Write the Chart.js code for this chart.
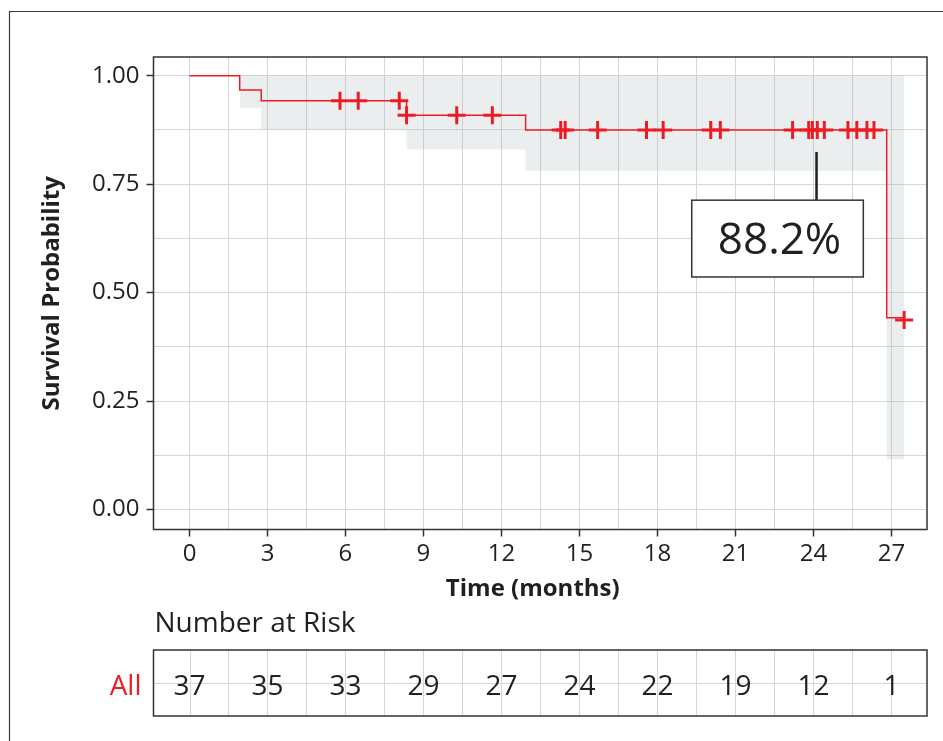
<!DOCTYPE html>
<html>
<head>
<meta charset="utf-8">
<script src="https://cdn.jsdelivr.net/npm/chart.js@4.4.1/dist/chart.umd.min.js"></script>
<style>
html,body{margin:0;padding:0;background:#fff;}
#wrap{position:relative;width:943px;height:741px;}
canvas{display:block;}
</style>
</head>
<body>
<div id="wrap"><canvas id="c" width="943" height="741"></canvas></div>
<script>
// ---- data ----
const survTime = [0, 1.93, 2.76, 8.35, 12.93, 26.82, 27.49];
const survProb = [1.0, 0.967, 0.942, 0.909, 0.875, 0.442, 0.442];

const ciTime  = [1.93, 2.76, 8.35, 12.93, 26.82, 27.49];
const ciLower = [0.926, 0.876, 0.830, 0.781, 0.116, 0.116];
const ciUpper = [1.0, 1.0, 1.0, 1.0, 1.0, 1.0];

const censorTime = [5.79, 6.49, 8.07, 8.35, 10.28, 11.65,
  14.28, 14.45, 15.70, 17.58, 18.22, 20.05, 20.42, 23.20, 23.82, 23.96, 24.15, 24.42,
  25.33, 25.67, 26.06, 26.33, 27.49];
const censorProb = [0.942, 0.942, 0.942, 0.909, 0.909, 0.909,
  0.875, 0.875, 0.875, 0.875, 0.875, 0.875, 0.875, 0.875, 0.875, 0.875, 0.875, 0.875,
  0.875, 0.875, 0.875, 0.875, 0.437];

const xTickValues = [0, 3, 6, 9, 12, 15, 18, 21, 24, 27];
const yTickValues = [0, 0.25, 0.5, 0.75, 1.0];
const yTickLabels = ['0.00', '0.25', '0.50', '0.75', '1.00'];

const riskGroup = 'All';
const riskTimes = [0, 3, 6, 9, 12, 15, 18, 21, 24, 27];
const riskCounts = [37, 35, 33, 29, 27, 24, 22, 19, 12, 1];

const annotLabel = '88.2%';
const xTitle = 'Time (months)';
const yTitle = 'Survival Probability';
const tableTitle = 'Number at Risk';

// ---- styling / layout ----
const TEXT = '#231F20';
const RED = '#ED1C24';
const GRID = '#d6d6d6';
const FONT = '"Open Sans", "Noto Sans", sans-serif';
const X_MIN = -1.385, X_MAX = 28.37, Y_MIN = -0.046, Y_MAX = 1.043;
const annotPos = {time: 24.12, top: 0.824, boxLeft: 19.32, boxRight: 25.92, boxTop: 0.713, boxBottom: 0.536};

const pts = (xs, ys) => xs.map((v, i) => ({x: v, y: ys[i]}));

const decor = {
  id: 'decor',
  beforeDraw(chart) {
    const ctx = chart.ctx;
    ctx.save();
    ctx.fillStyle = '#fff';
    ctx.fillRect(0, 0, chart.width, chart.height);
    ctx.strokeStyle = '#3a3a3a';
    ctx.lineWidth = 1.2;
    ctx.beginPath();
    ctx.moveTo(9.5, chart.height);
    ctx.lineTo(9.5, 11.5);
    ctx.lineTo(chart.width, 11.5);
    ctx.stroke();
    ctx.restore();
  },
  afterDatasetsDraw(chart) {
    const {ctx, chartArea: a, scales: {x, y}} = chart;
    ctx.save();
    // panel border
    ctx.strokeStyle = '#333';
    ctx.lineWidth = 1.5;
    ctx.strokeRect(a.left, a.top, a.right - a.left, a.bottom - a.top);
    // annotation
    const lx = x.getPixelForValue(annotPos.time);
    const bl = x.getPixelForValue(annotPos.boxLeft), br = x.getPixelForValue(annotPos.boxRight);
    const bt = y.getPixelForValue(annotPos.boxTop), bb = y.getPixelForValue(annotPos.boxBottom);
    ctx.strokeStyle = TEXT;
    ctx.lineWidth = 2.5;
    ctx.beginPath();
    ctx.moveTo(lx, y.getPixelForValue(annotPos.top));
    ctx.lineTo(lx, bt);
    ctx.stroke();
    ctx.fillStyle = '#fff';
    ctx.fillRect(bl, bt, br - bl, bb - bt);
    ctx.lineWidth = 1.5;
    ctx.strokeStyle = '#333';
    ctx.strokeRect(bl, bt, br - bl, bb - bt);
    ctx.fillStyle = TEXT;
    ctx.font = '44px ' + FONT;
    ctx.textAlign = 'center';
    ctx.textBaseline = 'alphabetic';
    ctx.fillText(annotLabel, (bl + br) / 2 + 2, bt + 54);
    ctx.restore();
  },
  afterDraw(chart) {
    const {ctx, chartArea: a, scales: {x}} = chart;
    const tTop = 650, tBot = 716, tMid = 683, base = 695;
    ctx.save();
    // x axis title (slightly left of panel centre, as in the reference)
    ctx.fillStyle = TEXT;
    ctx.font = 'bold 24px ' + FONT;
    ctx.textAlign = 'center';
    ctx.textBaseline = 'middle';
    ctx.fillText(xTitle, (a.left + a.right) / 2 - 7.5, 589);
    // table title
    ctx.font = '28px ' + FONT;
    ctx.textAlign = 'left';
    ctx.textBaseline = 'alphabetic';
    ctx.fillText(tableTitle, a.left + 1, 632);
    // table grid
    ctx.strokeStyle = GRID;
    ctx.lineWidth = 1;
    x.ticks.forEach(t => {
      const px = Math.round(x.getPixelForValue(t.value)) + 0.5;
      ctx.beginPath(); ctx.moveTo(px, tTop); ctx.lineTo(px, tBot); ctx.stroke();
    });
    ctx.beginPath(); ctx.moveTo(a.left, tMid + 0.5); ctx.lineTo(a.right, tMid + 0.5); ctx.stroke();
    ctx.strokeStyle = '#333';
    ctx.lineWidth = 1.5;
    ctx.strokeRect(a.left, tTop, a.right - a.left, tBot - tTop);
    // counts
    ctx.textAlign = 'center';
    ctx.fillStyle = TEXT;
    riskTimes.forEach((t, i) => ctx.fillText(String(riskCounts[i]), x.getPixelForValue(t), base));
    ctx.fillStyle = RED;
    ctx.textAlign = 'right';
    ctx.fillText(riskGroup, a.left - 12, base);
    ctx.restore();
  }
};

function draw() {
  new Chart(document.getElementById('c'), {
    type: 'line',
    data: {
      datasets: [
        {
          type: 'scatter',
          data: pts(censorTime, censorProb),
          showLine: false,
          pointStyle: 'cross',
          pointRadius: 9,
          pointHoverRadius: 9,
          pointBorderWidth: 3,
          borderColor: RED,
          backgroundColor: RED,
          order: 0
        },
        {
          data: pts(survTime, survProb),
          stepped: true,
          borderColor: RED,
          borderWidth: 1.5,
          pointRadius: 0,
          fill: false,
          order: 1
        },
        {
          data: pts(ciTime, ciLower),
          stepped: true,
          borderWidth: 0,
          borderColor: 'rgba(0,0,0,0)',
          pointRadius: 0,
          fill: false,
          order: 3
        },
        {
          data: pts(ciTime, ciUpper),
          stepped: true,
          borderWidth: 0,
          borderColor: 'rgba(0,0,0,0)',
          backgroundColor: 'rgba(170,180,180,0.23)',
          pointRadius: 0,
          fill: '-1',
          order: 2
        }
      ]
    },
    options: {
      responsive: false,
      animation: false,
      devicePixelRatio: 1,
      events: [],
      layout: {padding: {top: 57, right: 16, bottom: 131.5, left: 0}},
      plugins: {legend: {display: false}, tooltip: {enabled: false}, title: {display: false}},
      scales: {
        x: {
          type: 'linear',
          min: X_MIN, max: X_MAX,
          afterBuildTicks(s) {
            const t = [];
            for (let i = 0; i < xTickValues.length; i++) {
              t.push({value: xTickValues[i]});
              if (i < xTickValues.length - 1) t.push({value: (xTickValues[i] + xTickValues[i + 1]) / 2});
            }
            s.ticks = t;
          },
          afterFit(s) { s.height = 80; },
          ticks: {
            autoSkip: false, maxRotation: 0, minRotation: 0,
            padding: 3,
            color: TEXT,
            font: {family: FONT, size: 24},
            callback: (v) => xTickValues.includes(v) ? String(v) : ''
          },
          grid: {
            color: GRID, lineWidth: 1,
            tickLength: 7, tickWidth: 1.5,
            tickColor: (c) => (c.tick && xTickValues.includes(c.tick.value)) ? '#333' : 'rgba(0,0,0,0)'
          },
          border: {display: false},
          title: {display: false}
        },
        y: {
          type: 'linear',
          min: Y_MIN, max: Y_MAX,
          afterBuildTicks(s) {
            const t = [];
            for (let i = 0; i < yTickValues.length; i++) {
              t.push({value: yTickValues[i]});
              if (i < yTickValues.length - 1) t.push({value: (yTickValues[i] + yTickValues[i + 1]) / 2});
            }
            s.ticks = t;
          },
          afterFit(s) { s.width = 153.5; },
          ticks: {
            autoSkip: false,
            padding: 7,
            color: TEXT,
            font: {family: FONT, size: 24},
            callback: (v) => { const k = yTickValues.indexOf(v); return k >= 0 ? yTickLabels[k] : ''; }
          },
          grid: {
            color: GRID, lineWidth: 1,
            tickLength: 7, tickWidth: 1.5,
            tickColor: (c) => (c.tick && yTickValues.includes(c.tick.value)) ? '#333' : 'rgba(0,0,0,0)'
          },
          border: {display: false},
          title: {
            display: true, text: yTitle, color: TEXT,
            font: {family: FONT, size: 24, weight: 'bold'},
            padding: {top: 37.6, bottom: 0}
          }
        }
      }
    },
    plugins: [decor]
  });
}

if (document.fonts && document.fonts.load) {
  Promise.all([
    document.fonts.load('24px "Open Sans"'),
    document.fonts.load('bold 24px "Open Sans"')
  ]).then(draw, draw);
} else {
  draw();
}
</script>
</body>
</html>
